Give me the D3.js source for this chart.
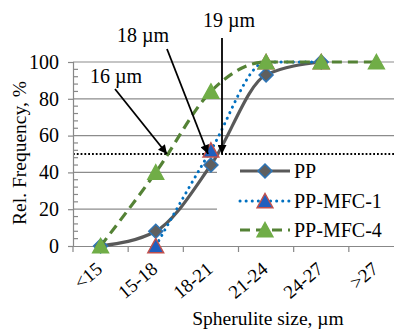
<!DOCTYPE html>
<html><head><meta charset="utf-8">
<script src="https://cdn.jsdelivr.net/npm/d3@7"></script>
</head><body style="margin:0">
<script>
const categories = ["<15","15-18","18-21","21-24","24-27",">27"];
const ppValues   = [0, 8, 44, 93, 100, null];
const mfc1Values = [null, 0, 52, 100, 100, null];
const mfc4Values = [0, 40, 84, 100, 100, 100];
const yTicks = [0, 20, 40, 60, 80, 100];
const seriesNames = ["PP", "PP-MFC-1", "PP-MFC-4"];
const annotations = ["16 µm", "18 µm", "19 µm"];
const refLine = 50;

const FONT = "'Liberation Serif', 'Times New Roman', serif";
const W = 394, H = 329;
const svg = d3.select("body").append("svg").attr("width", W).attr("height", H)
  .style("font-family", FONT);
const x = d3.scaleBand().domain(categories).range([73, 404]).padding(0);
const y = d3.scaleLinear().domain([0, 100]).range([246, 62]);
const cx = c => x(c) + x.bandwidth() / 2;

function txt(sel, size) {
  return sel.append("text").style("font-family", FONT).style("font-size", size + "px").attr("fill", "#000");
}

// gridlines
svg.append("g").selectAll("line").data(yTicks.filter(v => v > 0)).join("line")
  .attr("x1", 73).attr("x2", 404).attr("y1", d => y(d)).attr("y2", d => y(d))
  .attr("stroke", "#8c8c8c").attr("stroke-width", 1.2);

// legend background
svg.append("rect").attr("x", 217).attr("y", 158).attr("width", 177).attr("height", 83).attr("fill", "#fff");

// reference 50% dotted line
svg.append("line").attr("x1", 73).attr("x2", 404).attr("y1", y(refLine)).attr("y2", y(refLine))
  .attr("stroke", "#000").attr("stroke-width", 1.8).attr("stroke-dasharray", "1.8,2");

// y axis (line + ticks via d3 axis, labels drawn as own text)
const yAxis = svg.append("g").attr("transform", "translate(73,0)")
  .call(d3.axisLeft(y).tickValues(yTicks).tickSize(5).tickFormat(""));
yAxis.attr("font-family", null).attr("font-size", null);
yAxis.select(".domain").attr("stroke", "#888").attr("stroke-width", 1.2);
yAxis.selectAll(".tick line").attr("stroke", "#888").attr("stroke-width", 1.2);
yAxis.selectAll(".tick text").remove();
yTicks.forEach(v => {
  txt(svg, 20).attr("x", 59).attr("y", y(v)).attr("dy", "0.34em").attr("text-anchor", "end").text(v);
});
// minor ticks
svg.append("g").selectAll("line").data(d3.range(0, 101, 4).filter(v => v % 20 !== 0)).join("line")
  .attr("x1", 73).attr("x2", 78).attr("y1", d => y(d)).attr("y2", d => y(d))
  .attr("stroke", "#888").attr("stroke-width", 1.2);

// x axis
const xAxis = svg.append("g").attr("transform", "translate(0,246)")
  .call(d3.axisBottom(x).tickSize(0).tickFormat(""));
xAxis.attr("font-family", null).attr("font-size", null);
xAxis.select(".domain").attr("stroke", "#888").attr("stroke-width", 1.2);
xAxis.selectAll(".tick").remove();
const bounds = categories.map(c => x(c)).concat([x(categories[categories.length - 1]) + x.bandwidth()]);
xAxis.selectAll(".bt").data(bounds).join("line")
  .attr("x1", d => d).attr("x2", d => d)
  .attr("y1", 0).attr("y2", 6).attr("stroke", "#888").attr("stroke-width", 1.2);
categories.forEach(c => {
  txt(svg, 19).attr("transform", `translate(${cx(c) + 3},271) rotate(-40)`)
    .attr("text-anchor", "end").text(c);
});

// axis titles
txt(svg, 19.5).attr("x", 268).attr("y", 325).attr("text-anchor", "middle").text("Spherulite size, µm");
txt(svg, 19.5).attr("transform", "translate(26,153) rotate(-90)").attr("text-anchor", "middle").text("Rel. Frequency, %");

// series
const series = [
  {name: seriesNames[0], values: ppValues, stroke: "#595959", width: 3.2, dash: null, marker: "diamond", fill: "#5f5f5f", mstroke: "#2e75b6"},
  {name: seriesNames[1], values: mfc1Values, stroke: "#0070c0", width: 3, dash: "0.1,6", cap: "round", marker: "triangle", fill: "#1f5fbf", mstroke: "#c0504d"},
  {name: seriesNames[2], values: mfc4Values, stroke: "#548235", width: 3.2, dash: "10,6", marker: "triangle", fill: "#70ad47", mstroke: "#70ad47"}
];
const line = d3.line().defined(d => d.v != null).x(d => cx(d.c)).y(d => y(d.v)).curve(d3.curveMonotoneX);
const diamond = s => `M0,${-s}L${s},0L0,${s}L${-s},0Z`;
const triangle = s => `M0,${-s}L${s*1.05},${s*0.9}L${-s*1.05},${s*0.9}Z`;
function marker(g, type, f, st) {
  return g.append("path").attr("d", type === "diamond" ? diamond(7) : triangle(7.5))
    .attr("fill", f).attr("stroke", st).attr("stroke-width", 1.5);
}
series.forEach(s => {
  const pts = categories.map((c, i) => ({c, v: s.values[i]}));
  svg.append("path").datum(pts).attr("d", line).attr("fill", "none")
    .attr("stroke", s.stroke).attr("stroke-width", s.width)
    .attr("stroke-dasharray", s.dash).attr("stroke-linecap", s.cap || "butt");
  pts.filter(d => d.v != null).forEach(d => {
    marker(svg.append("g").attr("transform", `translate(${cx(d.c)},${y(d.v)})`), s.marker, s.fill, s.mstroke);
  });
});

// legend
const legY = [171, 201, 230];
series.forEach((s, i) => {
  const g = svg.append("g").attr("transform", `translate(0,${legY[i]})`);
  g.append("line").attr("x1", 240).attr("x2", 290).attr("stroke", s.stroke).attr("stroke-width", s.width)
    .attr("stroke-dasharray", s.dash).attr("stroke-linecap", s.cap || "butt");
  marker(g.append("g").attr("transform", "translate(265,0)"), s.marker, s.fill, s.mstroke);
  txt(g, 20).attr("x", 294).attr("y", 7).text(s.name);
});

// annotations with arrows
svg.append("defs").append("marker").attr("id", "ah").attr("viewBox", "0 0 10 10")
  .attr("refX", 10).attr("refY", 5).attr("markerWidth", 11).attr("markerHeight", 9)
  .attr("markerUnits", "userSpaceOnUse").attr("orient", "auto")
  .append("path").attr("d", "M0,0L10,5L0,10Z").attr("fill", "#000");
const annPos = [
  {tx: 90, ty: 83, sx: 115, sy: 89, ex: 167},
  {tx: 117, ty: 42, sx: 167, sy: 49, ex: 208},
  {tx: 203, ty: 27, sx: 222, sy: 38, ex: 222}
];
annotations.forEach((a, i) => {
  const p = annPos[i];
  txt(svg, 20).attr("x", p.tx).attr("y", p.ty).text(a);
  svg.append("line").attr("x1", p.sx).attr("y1", p.sy).attr("x2", p.ex).attr("y2", y(refLine))
    .attr("stroke", "#000").attr("stroke-width", 1.8).attr("marker-end", "url(#ah)");
});
</script>
</body></html>
